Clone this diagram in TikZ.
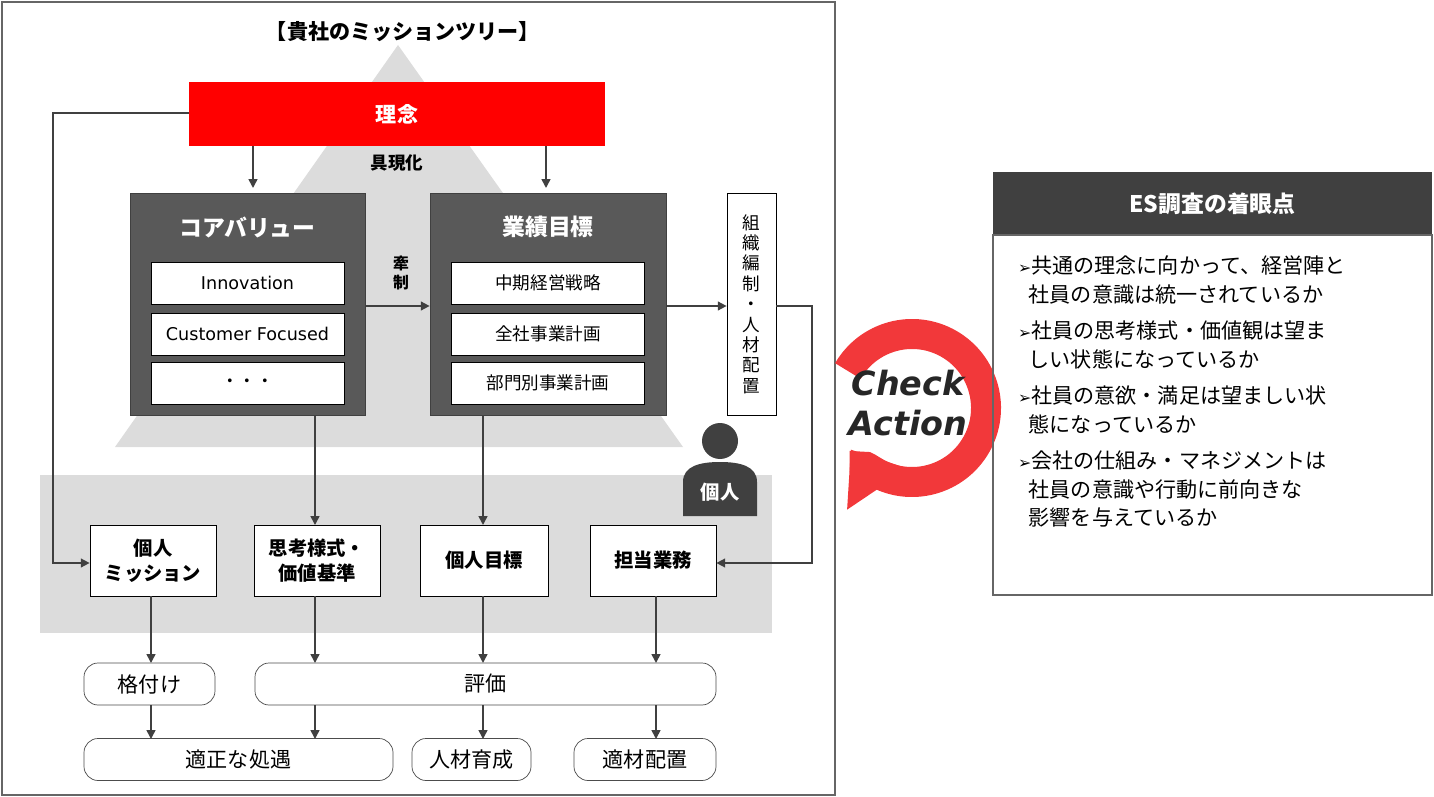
\documentclass[tikz,border=0pt]{standalone}
\usepackage{fontspec}
\setmainfont{Noto Sans CJK JP}
\newfontfamily\lat{DejaVu Sans}
\usetikzlibrary{positioning, arrows.meta}
\definecolor{bandgray}{HTML}{DCDCDC}
\definecolor{boxgray}{HTML}{595959}
\definecolor{headgray}{HTML}{404040}
\definecolor{redfill}{HTML}{FF0000}
\definecolor{ringred}{HTML}{F2383A}
\begin{document}
\begin{tikzpicture}
    [
        x=0.02cm, y=-0.02cm,
        white_box/.style={draw=black, fill=white, minimum width=193*0.02cm, minimum height=42*0.02cm, font=\lat\fontsize{10}{12}\selectfont},
        band_box/.style={draw=black, fill=white, minimum width=126*0.02cm, minimum height=71*0.02cm, align=center, font=\fontsize{11}{14}\selectfont\bfseries},
        round_box/.style={draw=black!70, fill=white, rounded corners=8pt, minimum height=42*0.02cm, font=\fontsize{12}{14}\selectfont},
        flow/.style={-{Triangle[length=5pt, width=5pt]}, line width=0.9pt, draw=headgray},
    ]
        \useasboundingbox (0,0) rectangle (1434,797);
        % frame, triangle, band
        \draw[black!60, line width=0.8pt] (2,2) rectangle (835,795);
        \fill[bandgray] (398,45) -- (683,447) -- (115,447) -- cycle;
        \fill[bandgray] (40,475) rectangle (772,633);
        \node[font=\fontsize{12}{14}\selectfont\bfseries] (title) at (403,32) {【貴社のミッションツリー】};
        % top
        \node[fill=redfill, minimum width=416*0.02cm, minimum height=64*0.02cm, text=white, font=\fontsize{12}{14}\selectfont\bfseries] (rinen) at (397,114) {理念};
        \node[font=\fontsize{10}{12}\selectfont\bfseries] (gugen) at (397,163) {具現化};
        \coordinate (r1) at (253,146);
        \coordinate (r2) at (546,146);
        % core value
        \node[fill=boxgray, draw=headgray, minimum width=235*0.02cm, minimum height=222*0.02cm] (core) at (247.5,304) {};
        \node[text=white, font=\fontsize{13}{15}\selectfont\bfseries] (coret) at (247.5,227) {コアバリュー};
        \node[white_box] (cv1) at (247.5,283) {Innovation};
        \node[white_box] (cv2) at (247.5,334) {Customer Focused};
        \node[white_box, font=\fontsize{10}{12}\selectfont] (cv3) at (247.5,383) {・・・};
        % goals
        \node[fill=boxgray, draw=headgray, minimum width=236*0.02cm, minimum height=222*0.02cm] (goal) at (548,304) {};
        \node[text=white, font=\fontsize{13}{15}\selectfont\bfseries] (goalt) at (548,227) {業績目標};
        \node[white_box, font=\fontsize{10}{12}\selectfont] (g1) at (548,283) {中期経営戦略};
        \node[white_box, font=\fontsize{10}{12}\selectfont] (g2) at (548,334) {全社事業計画};
        \node[white_box, font=\fontsize{10}{12}\selectfont] (g3) at (548,383) {部門別事業計画};
        \node[draw=black, fill=white, minimum width=49*0.02cm, minimum height=222*0.02cm, inner sep=1pt, align=center, font=\fontsize{10}{11.6}\selectfont] (org) at (751.5,304) {組\\織\\編\\制\\・\\人\\材\\配\\置};
        \node[align=center, font=\fontsize{9}{11}\selectfont\bfseries] (kensei) at (401,273) {牽\\制};
        \draw[flow] (r1) -- (253,188);
        \draw[flow] (r2) -- (546,188);
        \draw[flow] (core.east |- 0,306) -- (goal.west |- 0,306);
        \draw[flow] (goal.east |- 0,306) -- (org.west |- 0,306);
        % person
        \fill[headgray] (720,441) circle (18);
        \fill[headgray] (683,516) -- (683,482) .. controls (683,466) and (700,462) .. (720,462) .. controls (740,462) and (757,466) .. (757,482) -- (757,516) -- cycle;
        \node[text=white, font=\fontsize{11}{13}\selectfont\bfseries] (kojin) at (720,492) {個人};
        % band boxes
        \node[band_box] (mis) at (153,560.5) {個人\\ミッション};
        \node[band_box] (shiko) at (317,560.5) {思考様式・\\価値基準};
        \node[band_box, minimum width=128*0.02cm] (kmoku) at (484,560.5) {個人目標};
        \node[band_box] (tanto) at (653,560.5) {担当業務};
        \draw[flow] (rinen.west |- 0,113) -- (53,113) -- (53,563) -- (mis.west |- 0,563);
        \draw[flow] (org.east |- 0,306) -- (812,306) -- (812,563) -- (tanto.east |- 0,563);
        \draw[flow] (315,415) -- (315,525);
        \draw[flow] (483,415) -- (483,525);
        % bottom
        \node[round_box, minimum width=131*0.02cm] (kaku) at (149.5,684) {格付け};
        \node[round_box, minimum width=461*0.02cm] (hyoka) at (485.5,684) {評価};
        \node[round_box, minimum width=309*0.02cm] (shogu) at (238.5,759.5) {適正な処遇};
        \node[round_box, minimum width=119*0.02cm] (ikusei) at (471.5,759.5) {人材育成};
        \node[round_box, minimum width=142*0.02cm] (haichi) at (645,759.5) {適材配置};
        \draw[flow] (151,596) -- (151,663);
        \draw[flow] (315,596) -- (315,663);
        \draw[flow] (483,596) -- (483,663);
        \draw[flow] (656,596) -- (656,663);
        \draw[flow] (151,705) -- (151,739);
        \draw[flow] (315,705) -- (315,739);
        \draw[flow] (483,705) -- (483,739);
        \draw[flow] (656,705) -- (656,739);
        % check action ring
        \draw[ringred, line width=30*0.02cm, -{Triangle[length=48*0.02cm, width=70*0.02cm]}] (912,408) ++(-150:74) arc[start angle=-150, end angle=146, radius=74];
        \node[align=center, font=\lat\fontsize{19}{23}\selectfont\bfseries\itshape, text=black!85] (ca) at (908,403) {Check\\Action};
        % ES box
        \node[fill=headgray, minimum width=439*0.02cm, minimum height=63*0.02cm, text=white, font=\fontsize{13}{15}\selectfont\bfseries] (eshead) at (1212.5,203.5) {ES調査の着眼点};
        \draw[black!60, line width=0.8pt] (993,235) rectangle (1432,595);
        \node[anchor=north west, align=left, text width=410*0.02cm, font=\fontsize{12}{16}\selectfont] (esbody) at (1012,250)
            {{\lat\fontsize{9}{9}\selectfont ➢}共通の理念に向かって、経営陣と\\\hspace*{0.5em}社員の意識は統一されているか\\[5pt]
             {\lat\fontsize{9}{9}\selectfont ➢}社員の思考様式・価値観は望ま\\\hspace*{0.5em}しい状態になっているか\\[5pt]
             {\lat\fontsize{9}{9}\selectfont ➢}社員の意欲・満足は望ましい状\\\hspace*{0.5em}態になっているか\\[5pt]
             {\lat\fontsize{9}{9}\selectfont ➢}会社の仕組み・マネジメントは\\\hspace*{0.5em}社員の意識や行動に前向きな\\\hspace*{0.5em}影響を与えているか};
    \end{tikzpicture}
\end{document}
